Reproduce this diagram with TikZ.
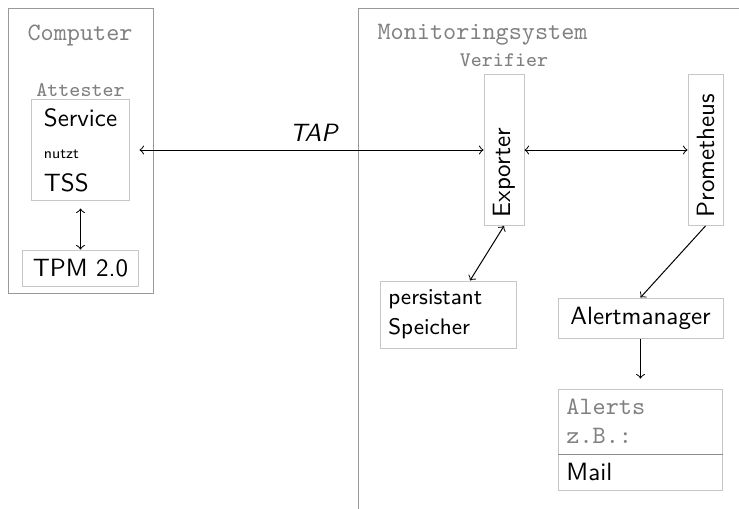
\documentclass[tikz,border=0pt]{standalone}
\definecolor{framegray}{gray}{0.6}
\definecolor{boxgray}{gray}{0.78}
\definecolor{titlegray}{gray}{0.5}
\definecolor{sepgray}{gray}{0.55}
\tikzset{
  box/.style={draw=boxgray, font=\sffamily, inner sep=3.33pt},
  title/.style={text=titlegray, font=\ttfamily, inner sep=0pt, anchor=base},
  smalltitle/.style={title, font=\ttfamily\fontsize{8.3}{10}\selectfont},
}
\begin{document}
\begin{tikzpicture}[x=0.4pt,y=-0.4pt]
      \clip (0,0) rectangle (739,508);
      \draw[framegray] (8,8) rectangle (153,293);
      \draw[framegray] (358,8) rectangle (760,530);
      \draw
        (80,40) node[title] (computer){Computer}
        (80.5,96) node[smalltitle] (attester){Attester}
        (80.5,150) node[box, minimum width=38.8pt, minimum height=40.4pt, align=left,
          font=\sffamily\fontsize{10}{13}\selectfont] (service){Service\\{\fontsize{6}{13}\selectfont nutzt}\\TSS}
        (80.5,268) node[box, minimum width=46pt, minimum height=14.4pt] (tpm){TPM 2.0}
        (482.5,39) node[title] (monitor){Monitoringsystem}
        (504,66) node[smalltitle] (verifier){Verifier}
        (504,150) node[box, rotate=90, text width=53.7pt, minimum height=16pt, align=left] (exporter){Exporter}
        (705.5,150) node[box, rotate=90, text width=53.7pt, minimum height=14pt, align=left] (prometheus){Prometheus}
        (448.5,314.5) node[box, text width=48.1pt, minimum height=26.8pt, align=left,
          font=\sffamily\fontsize{9}{12}\selectfont] (speicher){persistant\\Speicher}
        (640.5,318) node[box, minimum width=66pt, minimum height=16pt] (alertmanager){Alertmanager}
        (640.5,421.5) node[box, text width=59.3pt, minimum height=26pt, align=left, text=titlegray,
          font=\ttfamily\fontsize{10}{11.5}\selectfont] (alerts){Alerts\\z.B.:}
        (640.5,472) node[box, text width=59.3pt, minimum height=14.4pt, align=left] (mail){Mail};
      \draw[sepgray] (alerts.south west) -- (alerts.south east);
      \begin{scope}[<->]
        \draw[shorten <=4pt] (service) to node[pos=0.52, above, font=\sffamily\itshape] (tap){TAP} (exporter);
        \draw[shorten <=3pt] (service) to (tpm);
        \draw (exporter) to (prometheus);
        \draw (exporter.west) to ([xshift=8.6pt]speicher.north);
      \end{scope}
      \begin{scope}[->]
        \draw (prometheus.west) to (alertmanager.north);
        \draw[shorten >=4pt] (alertmanager) to (alerts);
      \end{scope}
    \end{tikzpicture}
\end{document}
